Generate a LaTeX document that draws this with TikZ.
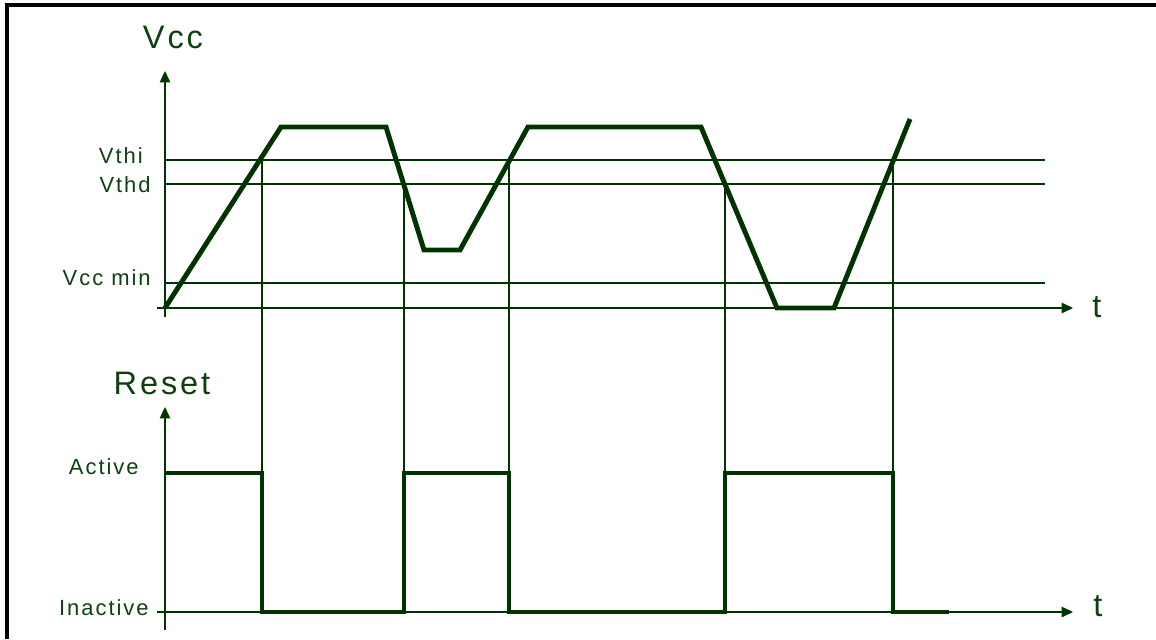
\documentclass[tikz,border=0pt]{standalone}
\usepackage{fontspec}
\setmainfont{Liberation Sans}
\newfontfamily\sigfont[LetterSpace=9]{Liberation Sans}
\usetikzlibrary{arrows.meta}
\definecolor{sigline}{HTML}{003300}
\definecolor{sigtext}{HTML}{104010}

\begin{document}
\begin{tikzpicture}[x=0.02cm,y=-0.02cm,
 gridline/.style={sigline,line width=0.6pt},
 axis/.style={gridline,-{Triangle[length=6.5pt,width=6pt]}},
 wave/.style={sigline,line width=2.8pt},
 lvl/.style={text=sigtext,font=\sigfont\fontsize{12.5}{14}\selectfont,anchor=base east,inner sep=0pt},
 big/.style={text=sigtext,font=\sigfont\fontsize{18.5}{20}\selectfont,anchor=base,inner sep=0pt}]
\useasboundingbox (0,0) rectangle (1156,639);
\draw[line width=1.9pt] (7,639) -- (7,5) -- (1156,5);

% Vcc diagram
\coordinate (vbot) at (165,317);
\coordinate (vtop) at (165,71);
\coordinate (tl) at (157,308);
\coordinate (tr) at (1073,308);
\draw[axis] (vbot) -- (vtop);
\draw[axis] (tl) -- (tr);
\foreach \y in {160,184,283} \draw[gridline] (165,\y) -- (1045,\y);
\node[big] (vcc) at (173,48) {Vcc};
\node[big] (t1) at (1097,317) {t};
\node[lvl] (vthi) at (143,163) {Vthi};
\node[lvl] (vthd) at (151,192) {Vthd};
\node[lvl] (vmin) at (151,285) {Vcc min};

% Reset diagram
\coordinate (rbot) at (165,630);
\coordinate (rtop) at (165,407);
\coordinate (bl) at (157,612);
\coordinate (br) at (1073,612);
\draw[axis] (rbot) -- (rtop);
\draw[axis] (bl) -- (br);
\node[big] (reset) at (162,394) {Reset};
\node[big] (t2) at (1098,616) {t};
\node[lvl] (act) at (139,474) {Active};
\node[lvl] (inact) at (149,615) {Inactive};

% threshold crossings
\foreach \x/\y in {262/160,404/184,509/160,725/184,893/160}
  \draw[gridline] (\x,\y) -- (\x,473);

% waveforms
\draw[wave] (165,308) -- (281,127) -- (386,127) -- (424,250) -- (460,250)
  -- (528,127) -- (701,127) -- (777,308) -- (834,308) -- (910,119);
\draw[wave] (165,473) -| (262,612) -| (404,473) -| (509,612) -| (725,473)
  -| (893,612) -- (949,612);
\end{tikzpicture}
\end{document}
